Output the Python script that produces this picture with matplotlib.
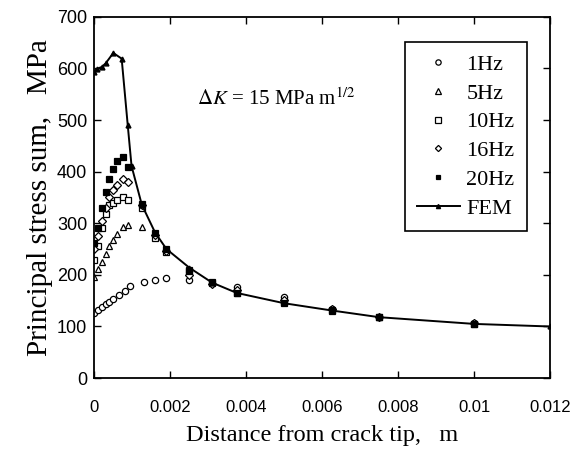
import numpy as np
import matplotlib
matplotlib.use("Agg")
import matplotlib.pyplot as plt

plt.rcParams['font.family'] = ['Liberation Serif', 'DejaVu Serif']
plt.rcParams['mathtext.fontset'] = 'stix'

# distance from crack tip (m) for the measured points
x_exp = [0, 0.0001, 0.0002, 0.0003, 0.0004, 0.0005, 0.0006, 0.00075, 0.0009,
         0.00125, 0.0016, 0.0019, 0.0025, 0.0031, 0.00375, 0.005, 0.00625,
         0.0075, 0.01]

x_1hz = [0, 0.0001, 0.0002, 0.0003, 0.0004, 0.0005, 0.00065, 0.0008, 0.00095,
         0.0013, 0.0016, 0.0019, 0.0025, 0.00375, 0.005, 0.00625, 0.01]
y_1hz = [126, 132, 138, 143, 148, 153, 161, 168, 178, 186, 191, 193, 190,
         176, 158, 133, 106]

y_5hz = [195, 212, 225, 240, 255, 268, 280, 292, 296, 292, 282, 250, 212,
         186, 168, 148, 131, 118, 106]
y_10hz = [228, 255, 290, 318, 335, 340, 345, 350, 345, 330, 272, 245, 210,
          185, 165, 147, 130, 118, 105]
y_16hz = [250, 275, 305, 330, 350, 365, 375, 385, 380, 335, 278, 247, 200,
          183, 170, 152, 133, 118, 106]
y_20hz = [262, 290, 330, 360, 385, 405, 420, 428, 410, 338, 282, 250, 208,
          186, 165, 146, 131, 118, 105]

# FEM result
x_fem = [0, 0.00006, 0.0002, 0.0003, 0.0005, 0.00072, 0.00088, 0.00098,
         0.00125, 0.0016, 0.0019, 0.0025, 0.0031, 0.00375, 0.005, 0.00625,
         0.0075, 0.01, 0.012]
y_fem = [593, 599, 603, 610, 630, 619, 490, 411, 336, 282, 250, 214, 185,
         165, 145, 131, 118, 105, 100]

xticks = [0, 0.002, 0.004, 0.006, 0.008, 0.01, 0.012]
xtick_labels = ['0', '0.002', '0.004', '0.006', '0.008', '0.01', '0.012']
yticks = [0, 100, 200, 300, 400, 500, 600, 700]

fig = plt.figure(figsize=(5.75, 4.55), dpi=100)
ax = fig.add_axes([0.164, 0.169, 0.793, 0.794])

ms = 4.5
ax.plot(x_1hz, y_1hz, 'o', mfc='white', mec='k', ms=ms, mew=0.9, label='1Hz')
ax.plot(x_exp, y_5hz, '^', mfc='white', mec='k', ms=ms, mew=0.9, label='5Hz')
ax.plot(x_exp, y_10hz, 's', mfc='white', mec='k', ms=ms, mew=0.9, label='10Hz')
ax.plot(x_exp, y_16hz, 'D', mfc='white', mec='k', ms=ms - 0.8, mew=0.9, label='16Hz')
ax.plot(x_exp, y_20hz, 's', mfc='k', mec='k', ms=ms - 0.5, mew=0.9, label='20Hz')
ax.plot(x_fem, y_fem, 'k-^', lw=1.4, ms=3.5, label='FEM')

ax.set_xlim(0, 0.012)
ax.set_ylim(0, 700)
ax.set_xticks(xticks)
ax.set_xticklabels(xtick_labels)
ax.set_yticks(yticks)
ax.tick_params(direction='in', top=True, right=True, length=5, width=1)
ax.tick_params(axis='x', pad=16)
ax.tick_params(axis='y', pad=5)
for lab in ax.get_xticklabels():
    lab.set_family('Liberation Sans')
    lab.set_fontsize(12)
for lab in ax.get_yticklabels():
    lab.set_family('Liberation Sans')
    lab.set_fontsize(13)
for sp in ax.spines.values():
    sp.set_linewidth(1.3)

ax.set_xlabel('Distance from crack tip,   m', fontsize=17.5, labelpad=7)
ax.set_ylabel('Principal stress sum,   MPa', fontsize=21, labelpad=3)

ax.text(0.0027, 541, r'$\mathit{\Delta K}$ = 15 MPa m$^{1/2}$', fontsize=15,
        va='center', ha='left')

leg = ax.legend(loc='upper right', bbox_to_anchor=(0.948, 0.93), fontsize=16,
                frameon=True, fancybox=False, framealpha=1, edgecolor='k',
                labelspacing=0.37, handlelength=1.9, handletextpad=0.3,
                borderpad=0.55, borderaxespad=0, markerscale=0.85)
leg.get_frame().set_linewidth(1.2)

fig.savefig('out.png', dpi=100)
